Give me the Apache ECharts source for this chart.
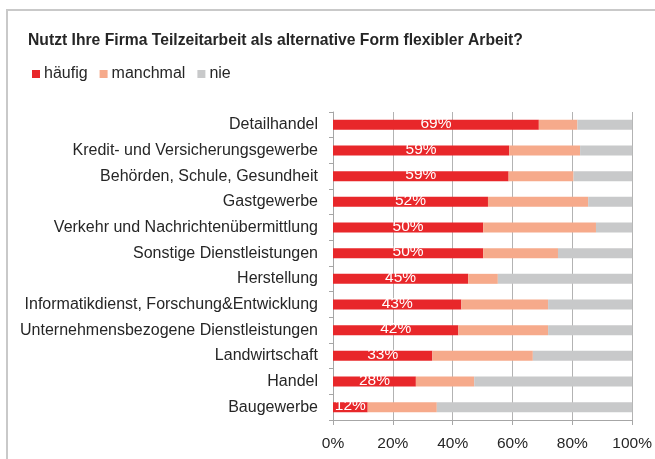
<!DOCTYPE html>
<html><head><meta charset="utf-8">
<script src="https://cdn.jsdelivr.net/npm/echarts@6/dist/echarts.min.js"></script>
<style>html,body{margin:0;padding:0;background:#fff}#c{width:655px;height:459px}</style>
</head><body><div id="c"></div>
<script>
const categories = ["Detailhandel","Kredit- und Versicherungsgewerbe","Behörden, Schule, Gesundheit","Gastgewerbe","Verkehr und Nachrichtenübermittlung","Sonstige Dienstleistungen","Herstellung","Informatikdienst, Forschung&Entwicklung","Unternehmensbezogene Dienstleistungen","Landwirtschaft","Handel","Baugewerbe"];
const haeufig  = [68.8, 58.9, 58.7, 51.8, 50.2, 50.2, 45.2, 42.9, 41.9, 33.2, 27.7, 11.6];
const manchmal = [12.9, 23.7, 21.7, 33.5, 37.7, 25.0, 9.9, 29.0, 30.0, 33.6, 19.5, 23.1];
const nie      = [18.3, 17.4, 19.6, 14.7, 12.1, 24.8, 44.9, 28.1, 28.1, 33.2, 52.8, 65.3];
const xTicks = [0, 20, 40, 60, 80, 100];
const seriesNames = ["häufig", "manchmal", "nie"];
const colors = ["#e8272a", "#f6aa8b", "#c8c9ca"];
const FONT = "Liberation Sans, Arial, sans-serif";
const chart = echarts.init(document.getElementById('c'), null, {renderer:'canvas'});
const vals = [haeufig, manchmal, nie];
chart.setOption({
  animation: false,
  color: colors,
  graphic: [{type:'rect', shape:{x:7, y:10, width:700, height:500}, style:{fill:'none', stroke:'#c9c9c9', lineWidth:2}, silent:true}],
  title: {text: "Nutzt Ihre Firma Teilzeitarbeit als alternative Form flexibler Arbeit?", left: 28, top: 33, padding: 0,
    textStyle:{fontFamily:FONT, fontSize:15.7, fontWeight:'bold', color:'#262626'}},
  legend: {left: 32, top: 66, padding: 0, itemWidth: 8, itemHeight: 8, itemGap: 12, icon:'rect',
    textStyle:{fontFamily:FONT, fontSize:16, color:'#262626', padding:[0,0,0,-1]}, data: seriesNames},
  grid: {left: 333, right: 20, top: 112, bottom: 39, containLabel:false},
  xAxis: {type:'value', min: xTicks[0], max: xTicks[xTicks.length-1], interval: 20,
    axisLine:{show:true, lineStyle:{color:'#a6a6a6'}},
    axisTick:{show:true, length:5, lineStyle:{color:'#a6a6a6'}},
    splitLine:{show:true, lineStyle:{color:'#b3b3b3', width:1}},
    axisLabel:{formatter: v => v + '%', fontFamily:FONT, fontSize:15.5, color:'#262626', margin: 16}},
  yAxis: {type:'category', data: categories, inverse: true,
    axisLine:{show:true, lineStyle:{color:'#a6a6a6'}},
    axisTick:{show:true, length:4, lineStyle:{color:'#a6a6a6'}},
    axisLabel:{fontFamily:FONT, fontSize:16, color:'#262626', margin: 15}},
  series: seriesNames.map((n, i) => ({
    name: n, type:'bar', stack:'total', barWidth: 10, data: vals[i],
    label: i === 0 ? {show:true, position:'inside', offset:[0,-1], color:'#fff', fontFamily:FONT, fontSize:15.5,
      formatter: p => Math.round(p.value) + '%'} : {show:false}
  }))
});
</script></body></html>
